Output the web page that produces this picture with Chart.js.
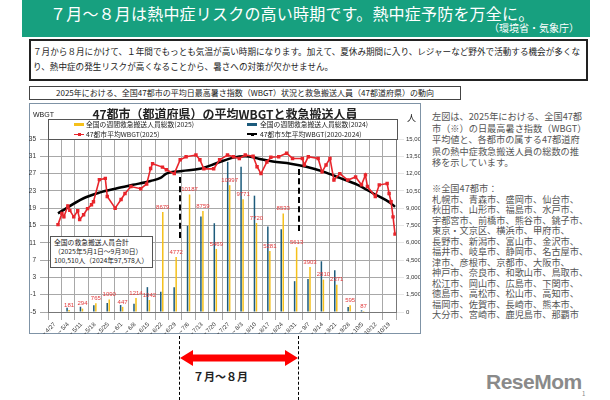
<!DOCTYPE html>
<html lang="ja"><head><meta charset="utf-8">
<script src="https://cdn.jsdelivr.net/npm/chart.js@4.4.1/dist/chart.umd.min.js"></script>
<style>
html,body{margin:0;padding:0;}
body{width:610px;height:400px;position:relative;overflow:hidden;background:#fff;font-family:"Noto Sans CJK JP","Noto Sans",sans-serif;color:#222;}
.a{position:absolute;white-space:nowrap;}
#band{left:22px;top:0;width:568px;height:37px;background:#17a07f;}
#title{left:50px;top:3px;font-size:16px;color:#fff;line-height:20px;letter-spacing:0.2px;}
#src{left:489px;top:21px;font-size:10px;color:#fff;line-height:13px;}
#lead{left:29px;top:39px;width:553px;height:35px;border:2px solid #222;font-size:8.6px;line-height:15px;padding:3px 0 0 2px;box-sizing:content-box;}
#sub{left:29px;top:86px;width:430px;height:12px;border:1px solid #444;font-size:8px;line-height:12px;text-align:center;}
#cbox{left:29px;top:103px;width:390px;height:229px;border:1px solid #7f93a6;}
#ctitle{left:29px;width:392px;top:106px;text-align:center;font-size:12px;font-weight:bold;line-height:16px;z-index:2;}
#wbgt{left:33px;top:110px;font-size:7px;line-height:9px;font-family:"Liberation Sans",sans-serif;z-index:2;}
#nin{left:407px;top:112px;font-size:9px;line-height:11px;z-index:2;}
#leg{left:48px;top:119px;width:348px;height:19px;border:1px solid #555;background:#fff;z-index:2;}
.lt{font-size:6.8px;line-height:9px;z-index:3;}
.sw{z-index:3;}
#tot{left:50px;top:236px;width:98px;height:29px;border:1px solid #555;background:#fff;z-index:2;font-size:6.8px;line-height:9px;padding:1px 0 0 3px;}
#right{left:432px;top:111px;font-size:9.2px;line-height:11.6px;color:#555;}
#list{left:432px;top:183px;font-size:9.2px;line-height:10.5px;color:#555;}
#mm{left:193px;top:369px;font-size:11px;font-weight:bold;line-height:14px;}
#logo{left:486px;top:370px;font-size:21px;font-weight:bold;color:#8a8a8a;font-family:"Liberation Sans",sans-serif;letter-spacing:-0.5px;line-height:24px;}
#pg{left:582px;top:390px;font-size:6px;color:#888;line-height:8px;}
canvas{position:absolute;left:0;top:0;z-index:1;}
</style></head><body>
<div id="band" class="a"></div>
<div id="title" class="a">７月～８月は熱中症リスクの高い時期です。熱中症予防を万全に。</div>
<div id="src" class="a">（環境省・気象庁）</div>
<div id="lead" class="a">７月から８月にかけて、１年間でもっとも気温が高い時期になります。加えて、夏休み期間に入り、レジャーなど野外で活動する機会が多くな<br>り、熱中症の発生リスクが高くなることから、暑さへの対策が欠かせません。</div>
<div id="sub" class="a">2025年における、全国47都市の平均日最高暑さ指数（WBGT）状況と救急搬送人員（47都道府県）の動向</div>
<div id="cbox" class="a"></div>
<div id="ctitle" class="a">47都市（都道府県）の平均WBGTと救急搬送人員</div>
<div id="wbgt" class="a">WBGT</div>
<div id="nin" class="a">人</div>
<div id="leg" class="a"></div>
<div class="a sw" style="left:74px;top:123px;width:10px;height:3px;background:#f5c01b"></div>
<div class="a lt" style="left:86px;top:120px;">全国の週間救急搬送人員総数(2025)</div>
<div class="a sw" style="left:247px;top:123px;width:10px;height:3px;background:#1d5b7c"></div>
<div class="a lt" style="left:260px;top:120px;">全国の週間救急搬送人員総数(2024)</div>
<div class="a sw" style="left:74px;top:133.5px;width:10px;height:1.5px;background:#e8252b"></div>
<div class="a sw" style="left:77.5px;top:132.5px;width:3px;height:3px;background:#e8252b"></div>
<div class="a lt" style="left:86px;top:130px;">47都市平均WBGT(2025)</div>
<div class="a sw" style="left:247px;top:133px;width:10px;height:2px;background:#000"></div>
<div class="a sw" style="left:250.5px;top:132.5px;width:3px;height:3px;background:#000"></div>
<div class="a lt" style="left:260px;top:130px;">47都市5年平均WBGT(2020-2024)</div>
<div id="tot" class="a">全国の救急搬送人員合計<br>（2025年5月1日～9月30日）<br>100,510人（2024年97,578人）</div>
<div class="a" style="left:179px;top:177px;height:61px;border-left:2px dashed #000;z-index:2"></div>
<div class="a" style="left:298px;top:169px;height:62px;border-left:2px dashed #000;z-index:2"></div>
<div id="right" class="a">左図は、2025年における、全国47都<br>市（※）の日最高暑さ指数（WBGT）<br>平均値と、各都市の属する47都道府<br>県の熱中症救急搬送人員の総数の推<br>移を示しています。</div>
<div id="list" class="a">※全国47都市：<br>札幌市、青森市、盛岡市、仙台市、<br>秋田市、山形市、福島市、水戸市、<br>宇都宮市、前橋市、熊谷市、銚子市、<br>東京・文京区、横浜市、甲府市、<br>長野市、新潟市、富山市、金沢市、<br>福井市、岐阜市、静岡市、名古屋市、<br>津市、彦根市、京都市、大阪市、<br>神戸市、奈良市、和歌山市、鳥取市、<br>松江市、岡山市、広島市、下関市、<br>徳島市、高松市、松山市、高知市、<br>福岡市、佐賀市、長崎市、熊本市、<br>大分市、宮崎市、鹿児島市、那覇市</div>
<div class="a" style="left:179px;top:336px;height:64px;border-left:1.5px dashed #000;"></div>
<div class="a" style="left:298px;top:336px;height:64px;border-left:1.5px dashed #000;"></div>
<svg class="a" style="left:179px;top:348px" width="121" height="20"><polygon points="1,10 14,2 14,6.5 106,6.5 106,2 119,10 106,18 106,13.5 14,13.5 14,18" fill="#f00"/></svg>
<div id="mm" class="a">７月～８月</div>
<div id="logo" class="a">ReseMom</div>
<div id="pg" class="a">1</div>
<canvas id="c" width="610" height="400"></canvas>
<script>
const weeks = ['～4/27','～5/4','～5/11','～5/18','～5/25','～6/1','～6/8','～6/15','～6/22','～6/29','～7/6','～7/13','～7/20','～7/27','～8/3','～8/10','～8/17','～8/24','～8/31','～9/7','～9/14','～9/21','～9/28','～10/5','～10/12','～10/19'];
const cases2025 = [null,181,294,765,1090,447,1214,1042,8679,4772,10187,8759,5469,10997,9771,7720,5281,8533,5613,3903,2810,2371,595,87,null,null];
const cases2024 = [null,371,457,578,776,603,716,2155,1753,2155,7471,8276,7698,13017,12586,10086,7414,7184,2672,2871,4397,3621,431,147,null,null];
// day index from 5/1 (0) ; WBGT values
const wbgtDay2025 = [0,2,3,5,6,8,10,11,13,15,17,18,21,24,25,29,32,34,37,42,45,47,48,53,55,59,62,65,70,72,74,79,82,86,89,92,95,99,101,103,106,108,112,116,119,124,125,127,132,134,136,138,140,143,147,151,154,156,157,161,163,167,168,169,170,171];
const wbgt2025 = [15.2,17.8,17,19.5,18.5,17,18.4,16.4,17.5,18.9,19.8,20.5,25.6,25.9,21.7,19,21,22.4,24,23.5,24.6,28.2,29.3,28.5,27.9,27,30.2,30.9,31.3,30.2,28.1,28.1,30.2,31.3,30.9,30.5,31.3,31,28.6,27,29.7,30.8,30.9,31.7,30.5,30.5,29,30.9,30.5,27.4,29,30.5,25.5,27,25.5,26.2,24.4,26.7,24,21.7,24.4,24.7,22.4,20.5,17,13];
const wbgtDayAvg = [0,13,21,30,38,47,52,55,63,72,81,89,95,99,103,109,118,126,135,143,152,160,169,171];
const wbgtAvg = [17.8,21.3,22.6,23.6,24.4,25.3,26,27,27.6,28.1,29.5,30.7,31,30.8,30.3,29.8,29.3,28.6,27.4,26,24.4,22.4,20.1,19.3];
const wbgtTicks = {min:-5,max:35,step:2};
const caseTicks = {min:0,max:15000,step:1500};

const pts = (xs,ys)=>xs.map((x,i)=>({x:x,y:ys[i]}));
const valueLabels = {
  id:'valueLabels',
  afterDatasetsDraw(chart){
    const meta = chart.getDatasetMeta(3);
    const ctx = chart.ctx;
    ctx.save();
    ctx.font = '6px "Liberation Sans", sans-serif';
    ctx.fillStyle = '#e23a3c';
    ctx.textAlign = 'center';
    ctx.textBaseline = 'bottom';
    meta.data.forEach((bar,i)=>{
      const v = cases2025[i];
      if (v == null) return;
      ctx.fillText(String(v), bar.x, bar.y - 2);
    });
    ctx.restore();
  }
};
new Chart(document.getElementById('c'), {
  data:{
    labels: weeks,
    datasets:[
      {type:'line',label:'47都市平均WBGT(2025)',data:pts(wbgtDay2025,wbgt2025),xAxisID:'x2',yAxisID:'y',borderColor:'#e8252b',backgroundColor:'#e8252b',borderWidth:1.6,pointRadius:1.3,pointStyle:'rect',tension:0,order:0},
      {type:'line',label:'47都市5年平均WBGT(2020-2024)',data:pts(wbgtDayAvg,wbgtAvg),xAxisID:'x2',yAxisID:'y',borderColor:'#000',backgroundColor:'#000',borderWidth:2.5,pointRadius:0,tension:0.4,cubicInterpolationMode:'monotone',order:0},
      {type:'bar',label:'全国の週間救急搬送人員総数(2024)',data:cases2024,xAxisID:'x',yAxisID:'y2',backgroundColor:'#1d5b7c',categoryPercentage:0.6,barPercentage:0.75,order:1},
      {type:'bar',label:'全国の週間救急搬送人員総数(2025)',data:cases2025,xAxisID:'x',yAxisID:'y2',backgroundColor:'#f5c01b',categoryPercentage:0.6,barPercentage:0.75,order:1}
    ]
  },
  options:{
    responsive:false,animation:false,devicePixelRatio:1,
    layout:{padding:{left:28,right:190,top:139,bottom:66}},
    plugins:{legend:{display:false},tooltip:{enabled:false}},
    scales:{
      x:{type:'category',offset:true,grid:{offset:true,color:'#a8a8a8',lineWidth:1},border:{color:'#777'},
         ticks:{autoSkip:false,maxRotation:45,minRotation:45,padding:1,color:'#333',font:{size:6,family:'"Liberation Sans", sans-serif'}},
         afterFit(s){s.height=22;}},
      x2:{type:'linear',display:false,min:-5.07,max:171.5},
      y:{position:'left',min:wbgtTicks.min,max:wbgtTicks.max,grid:{color:'#a8a8a8',lineWidth:1},border:{color:'#777'},
         ticks:{stepSize:wbgtTicks.step,padding:4,color:'#333',font:{size:6.5,family:'"Liberation Sans", sans-serif'}},
         afterFit(s){s.width=20;}},
      y2:{position:'right',min:caseTicks.min,max:caseTicks.max,grid:{drawOnChartArea:false},border:{color:'#777'},
         ticks:{stepSize:caseTicks.step,padding:2,color:'#333',font:{size:6,family:'"Liberation Sans", sans-serif'},callback:v=>v.toLocaleString('en-US')},
         afterFit(s){s.width=24;}}
    }
  },
  plugins:[valueLabels]
});
</script>
</body></html>
